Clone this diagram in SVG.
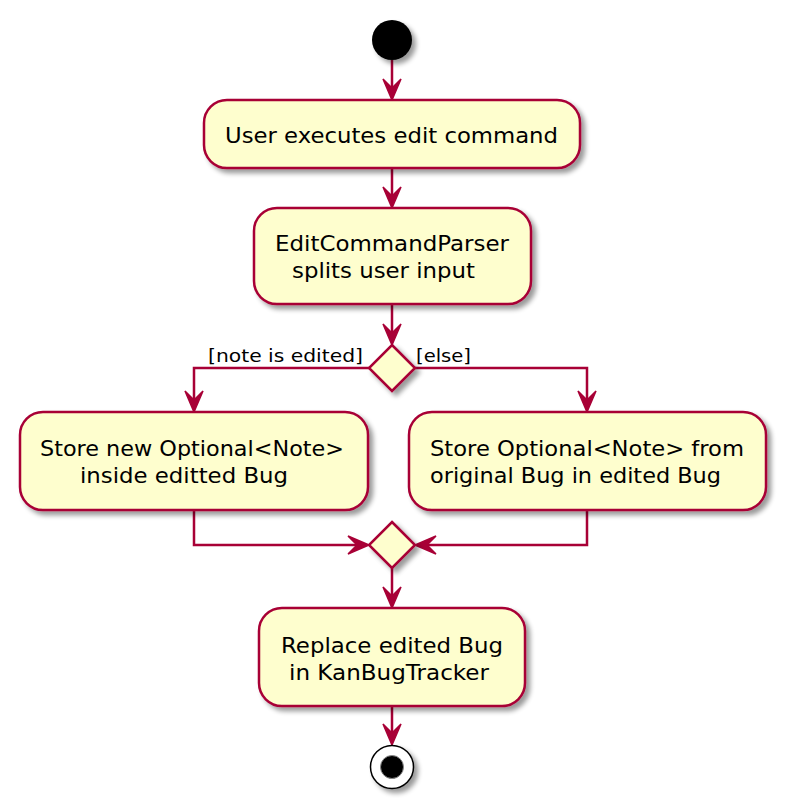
<svg xmlns="http://www.w3.org/2000/svg" width="788" height="809" viewBox="0 0 788 809">
<style>
.box{fill:#FEFECE;stroke:#A80036;stroke-width:2.5;filter:url(#sh)}
.dia{fill:#FEFECE;stroke:#A80036;stroke-width:2.5;filter:url(#sh)}
.t{font-family:"DejaVu Sans","Noto Sans",sans-serif;font-size:22px;fill:#000}
.l{font-family:"DejaVu Sans","Noto Sans",sans-serif;font-size:18px;fill:#000}
.c{fill:none;stroke:#A80036;stroke-width:2.5;marker-end:url(#ah)}
</style>
<defs>
<filter id="sh" x="-20%" y="-20%" width="150%" height="160%">
<feGaussianBlur in="SourceAlpha" stdDeviation="2.5"/>
<feOffset dx="4" dy="4" result="b"/>
<feComponentTransfer><feFuncA type="linear" slope="0.4"/></feComponentTransfer>
<feMerge><feMergeNode/><feMergeNode in="SourceGraphic"/></feMerge>
</filter>
<marker id="ah" viewBox="-24 -11 28 22" refX="-3" refY="0" markerWidth="28" markerHeight="22" markerUnits="userSpaceOnUse" orient="auto">
<path d="M0,0 L-21,-9 L-12,0 L-21,9 Z" fill="#A80036" stroke="#A80036" stroke-width="1.5" stroke-linejoin="miter"/>
</marker>
</defs>
<g id="connectors">
<path class="c" d="M392,60 L392,97"/>
<path class="c" d="M392,168 L392,205"/>
<path class="c" d="M392,304 L392,342"/>
<path class="c" d="M369,368 L194,368 L194,409"/>
<path class="c" d="M415,368 L587,368 L587,409"/>
<path class="c" d="M194,510 L194,545 L366,545"/>
<path class="c" d="M587,510 L587,545 L418,545"/>
<path class="c" d="M392,568 L392,605"/>
<path class="c" d="M392,706 L392,742"/>
</g>
<g id="start"><circle cx="392" cy="40" r="20" fill="#000" filter="url(#sh)"/></g>
<g id="n1">
<rect class="box" x="204" y="100" width="376" height="68" rx="23"/>
<text class="t" x="225" y="143" textLength="333" lengthAdjust="spacingAndGlyphs">User executes edit command</text>
</g>
<g id="n2">
<rect class="box" x="254" y="208" width="277" height="96" rx="23"/>
<text class="t" x="275" y="251" textLength="234" lengthAdjust="spacingAndGlyphs">EditCommandParser</text>
<text class="t" x="292" y="278" textLength="183" lengthAdjust="spacingAndGlyphs">splits user input</text>
</g>
<g id="d1">
<polygon class="dia" points="392,345 415,368 392,391 369,368"/>
<text class="l" x="208" y="362" textLength="155" lengthAdjust="spacingAndGlyphs">[note is edited]</text>
<text class="l" x="416" y="362" textLength="55" lengthAdjust="spacingAndGlyphs">[else]</text>
</g>
<g id="n3">
<rect class="box" x="20" y="412" width="348" height="98" rx="23"/>
<text class="t" x="40" y="456" textLength="304" lengthAdjust="spacingAndGlyphs">Store new Optional&lt;Note&gt;</text>
<text class="t" x="80" y="483" textLength="208" lengthAdjust="spacingAndGlyphs">inside editted Bug</text>
</g>
<g id="n4">
<rect class="box" x="409" y="412" width="357" height="98" rx="23"/>
<text class="t" x="430" y="456" textLength="314" lengthAdjust="spacingAndGlyphs">Store Optional&lt;Note&gt; from</text>
<text class="t" x="430" y="483" textLength="291" lengthAdjust="spacingAndGlyphs">original Bug in edited Bug</text>
</g>
<g id="d2">
<polygon class="dia" points="392,522 415,545 392,568 369,545"/>
</g>
<g id="n5">
<rect class="box" x="259" y="608" width="266" height="98" rx="23"/>
<text class="t" x="281" y="653" textLength="222" lengthAdjust="spacingAndGlyphs">Replace edited Bug</text>
<text class="t" x="289" y="680" textLength="200" lengthAdjust="spacingAndGlyphs">in KanBugTracker</text>
</g>
<g id="end">
<circle cx="392" cy="767" r="21.5" fill="#fff" stroke="#000" stroke-width="1.5" filter="url(#sh)"/>
<circle cx="392" cy="767" r="11.5" fill="#000" stroke="#888" stroke-width="1"/>
</g>
</svg>
